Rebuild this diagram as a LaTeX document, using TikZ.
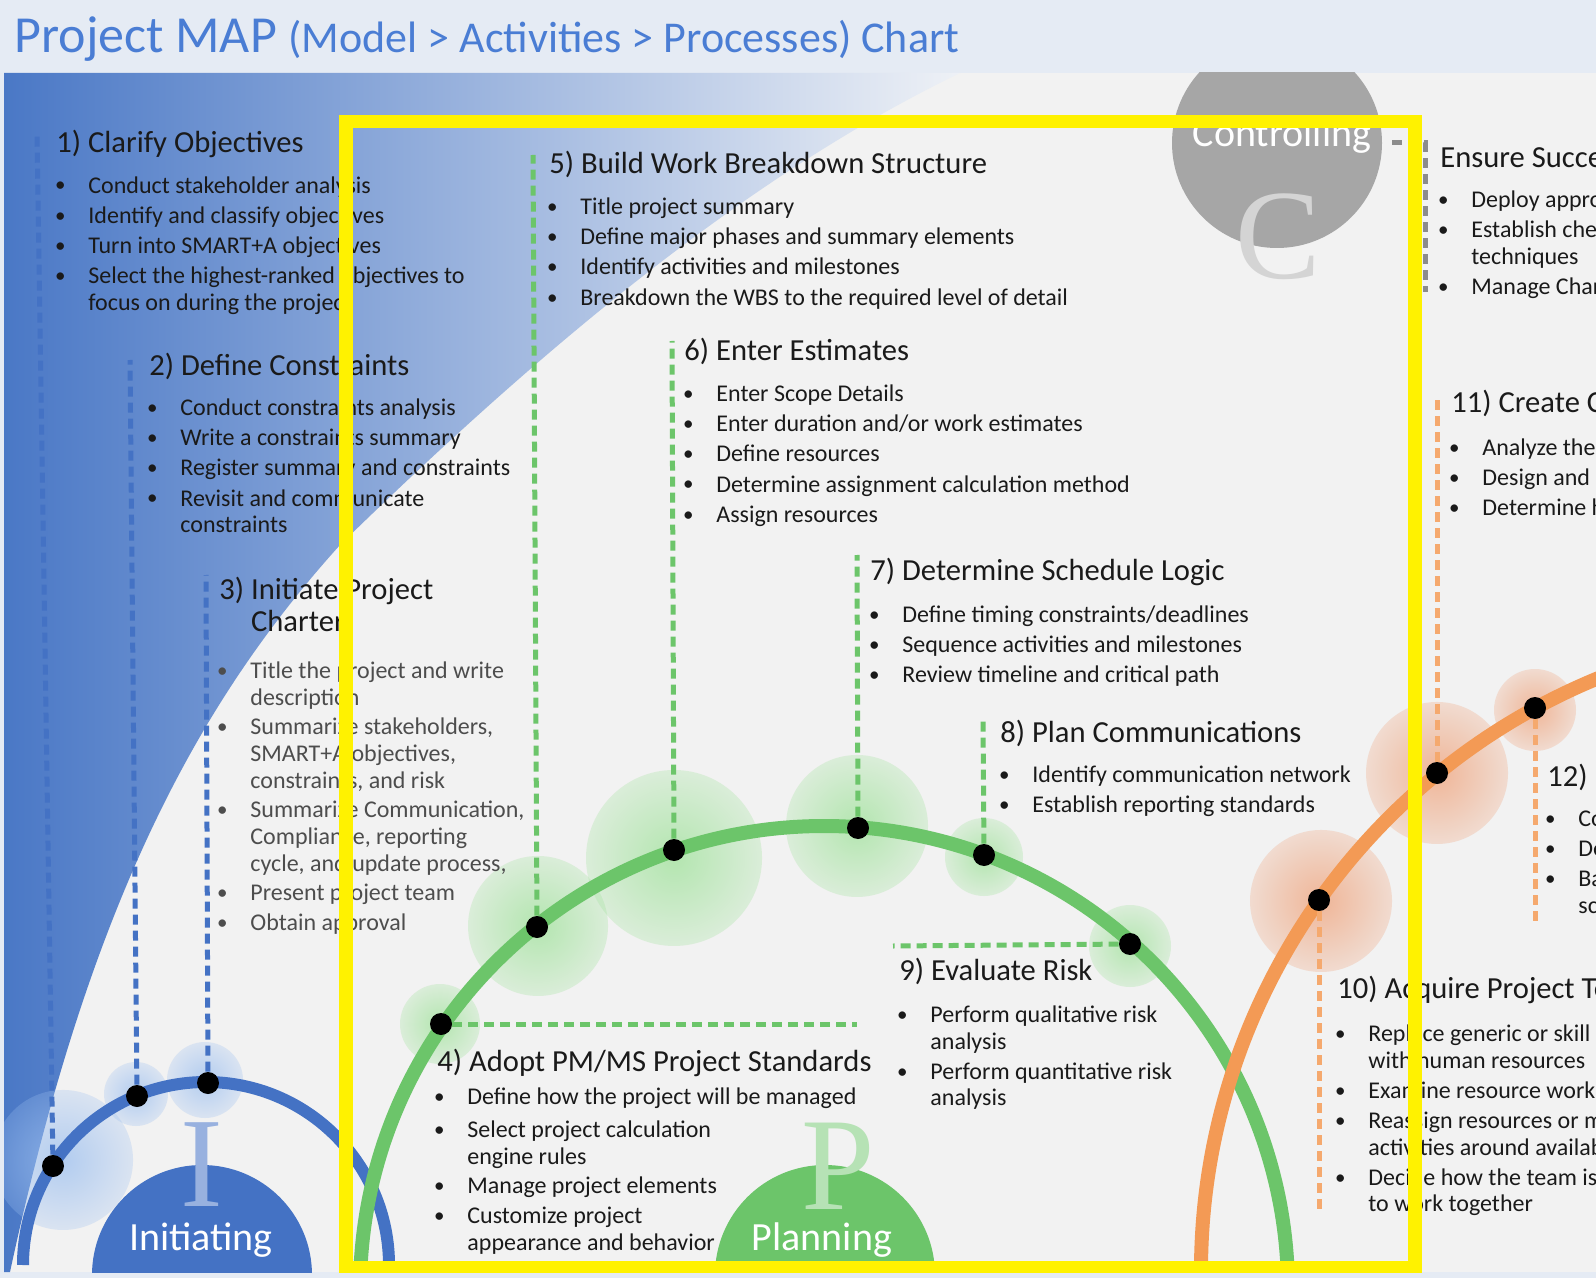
\documentclass[tikz,border=0pt]{standalone}
\usepackage{fontspec}
\setmainfont{Carlito}
\newfontfamily\bigserif{Liberation Serif}
\usetikzlibrary{fadings}
\definecolor{ititle}{HTML}{4A7DD4}
\definecolor{iblue}{HTML}{4472C4}
\definecolor{pgreen}{HTML}{6CC56A}
\definecolor{corange}{HTML}{F39A55}
\definecolor{cgray}{HTML}{A6A6A6}
\definecolor{cline}{HTML}{8C8C8C}
\definecolor{bgmain}{HTML}{F2F2F2}
\definecolor{bgtop}{HTML}{E5EBF4}
\definecolor{bgleft}{HTML}{4A78C6}
\definecolor{bgright}{HTML}{EEF1F6}
\definecolor{txt}{HTML}{1A1A1A}
\definecolor{txtgray}{HTML}{4D4D4D}
\definecolor{bglow}{HTML}{9DC0F0}
\definecolor{gglow}{HTML}{9FE29A}
\definecolor{oglow}{HTML}{EFA27A}
\tikzfading[name=glowfade, inner color=transparent!25, outer color=transparent!72]
\newcommand{\bu}{\makebox[14pt][l]{\makebox[0pt]{\fontsize{10.5}{10}\selectfont\raisebox{0.6pt}{\textbullet}}}}
\newcommand{\ind}{\hspace*{14pt}}

\begin{document}
\begin{tikzpicture}[x=0.5pt, y=-0.5pt,
    hd/.style={anchor=west, inner sep=0pt, text=txt, font=\fontsize{15.3}{16}\selectfont},
    lst/.style={anchor=north west, inner sep=0pt, align=left, text=txt, font=\fontsize{12}{13.3}\selectfont},
    dot/.style={circle, fill=black, inner sep=0pt, minimum size=11pt},
    glow/.style={path fading=glowfade},
    conn/.style={line width=2.5pt, dash pattern=on 5pt off 3pt},
    phase/.style={anchor=base, inner sep=0pt, text=white, font=\fontsize{20}{24}\selectfont},
    bigletter/.style={inner sep=0pt, font=\bigserif\fontsize{64}{64}\selectfont},
  ]
  \useasboundingbox (0,0) rectangle (1596,1278);
  \fill[bgtop] (0,0) rectangle (1596,1278);
  \node[anchor=base west, inner sep=0pt, text=ititle] (title) at (14,53)
    {\fontsize{26}{30}\selectfont Project MAP \fontsize{22}{26}\selectfont(Model > Activities > Processes) Chart};

  \begin{scope}
    \clip (4,73) rectangle (1596,1272);
    \fill[bgmain] (4,73) rectangle (1596,1272);
    \shade[left color=bgleft, right color=bgright] (4,73) -- (960,73)
      .. controls (760,170) and (560,330) .. (340,545)
      .. controls (200,700) and (90,900) .. (10,1272) -- (4,1272) -- cycle;

    % glows
    \fill[bglow, glow] (63,1160) circle (70);
    \fill[bglow, glow] (136,1094) circle (32);
    \fill[bglow, glow] (205,1080) circle (38);
    \fill[gglow, glow] (440,1024) circle (40);
    \fill[gglow, glow] (538,926) circle (70);
    \fill[gglow, glow] (674,858) circle (88);
    \fill[gglow, glow] (857,826) circle (71);
    \fill[gglow, glow] (984,857) circle (39);
    \fill[gglow, glow] (1130,946) circle (41);
    \fill[oglow, glow] (1321,901) circle (71);
    \fill[oglow, glow] (1437,773) circle (71);
    \fill[oglow, glow] (1535,710) circle (41);

    % phase domes
    \fill[iblue] (202,1275) circle (110);
    \fill[pgreen] (825,1275) circle (110);
    \node[circle, fill=cgray, minimum size=105pt, inner sep=0pt] (ctl) at (1277,143) {};
    \node[bigletter, text=iblue!55] (bigI) at (202,1165) {I};
    \node[bigletter, text=pgreen!50!white, font=\bigserif\fontsize{66}{66}\selectfont] (bigP) at (838,1166) {P};
    \node[bigletter, text=black!17] (bigC) at (1278,237) {C};

    % arcs
    \draw[iblue, line width=6pt] (23,1265) arc[start angle=180, end angle=360, radius=183];
    \draw[pgreen, line width=7pt] (360,1290) arc[start angle=180, end angle=360, radius=464];
    \draw[corange, line width=7pt] (1201,1271) arc[start angle=180, end angle=252, radius=641];

    % milestones
    \node[dot] (d1) at (53,1166) {};
    \node[dot] (d2) at (137,1096) {};
    \node[dot] (d3) at (208,1083) {};
    \node[dot] (d4) at (441,1024) {};
    \node[dot] (d5) at (537,927) {};
    \node[dot] (d6) at (674,850) {};
    \node[dot] (d7) at (858,828) {};
    \node[dot] (d8) at (984,855) {};
    \node[dot] (d9) at (1130,944) {};
    \node[dot] (d10) at (1319,900) {};
    \node[dot] (d11) at (1437,773) {};
    \node[dot] (d12) at (1535,708) {};

    \coordinate (t1) at (37,133);
    \coordinate (t2) at (130,360);
    \coordinate (t3) at (206,575);
    \coordinate (t4) at (857,1024);
    \coordinate (t5) at (533,155);
    \coordinate (t6) at (672,341);
    \coordinate (t7) at (857,555);
    \coordinate (t8) at (983,718);
    \coordinate (t9) at (893,946);
    \coordinate (t10) at (1319,1211);
    \coordinate (t11) at (1437,397);
    \coordinate (t12) at (1535,921);
    \coordinate (cbend) at (1425,143);
    \coordinate (cend) at (1425,292);

    \foreach \i in {1,2,3} \draw[conn, iblue] (d\i) -- (t\i);
    \foreach \i in {4,...,9} \draw[conn, pgreen] (d\i) -- (t\i);
    \foreach \i in {10,11,12} \draw[conn, corange!85!white] (d\i) -- (t\i);
    \draw[conn, cline, shorten <=5pt] (ctl) -- (cbend) -- (cend);

    % phase names
    \node[phase] (init) at (201,1250) {Initiating};
    \node[phase] (plan) at (822,1250) {Planning};
    \node[phase] (ctrl) at (1282,147) {Controlling};

    % activity blocks
    \node[hd] (h1) at (56,144) {1) Clarify Objectives};
    \node[lst] (l1) at (60,176) {\bu Conduct stakeholder analysis\\[1.8pt]\bu Identify and classify objectives\\[1.8pt]\bu Turn into SMART+A objectives\\[1.8pt]\bu Select the highest-ranked objectives to\\\ind focus on during the project};

    \node[hd] (h2) at (149,366) {2) Define Constraints};
    \node[lst] (l2) at (152,398.5) {\bu Conduct constraints analysis\\[1.8pt]\bu Write a constraints summary\\[1.8pt]\bu Register summary and constraints\\[1.8pt]\bu Revisit and communicate\\\ind constraints};

    \node[hd, align=left] (h3) at (219,606) {3) Initiate Project\\\phantom{3) }Charter};
    \node[lst, text=txtgray] (l3) at (222,661.5) {\bu Title the project and write\\\ind description\\[1.6pt]\bu Summarize stakeholders,\\\ind SMART+A objectives,\\\ind constraints, and risk\\[1.6pt]\bu Summarize Communication,\\\ind Compliance, reporting\\\ind cycle, and update process,\\[1.6pt]\bu Present project team\\[1.6pt]\bu Obtain approval};

    \node[hd] (h4) at (437,1063) {4) Adopt PM/MS Project Standards};
    \node[lst] (l4) at (439,1087.5) {\bu Define how the project will be managed\\[3.2pt]\bu Select project calculation\\\ind engine rules\\[1.6pt]\bu Manage project elements\\[1.6pt]\bu Customize project\\\ind appearance and behavior};

    \node[hd] (h5) at (549,164) {5) Build Work Breakdown Structure};
    \node[lst] (l5) at (552,197.5) {\bu Title project summary\\[1.8pt]\bu Define major phases and summary elements\\[1.8pt]\bu Identify activities and milestones\\[2.2pt]\bu Breakdown the WBS to the required level of detail};

    \node[hd] (h6) at (684,351) {6) Enter Estimates};
    \node[lst] (l6) at (688,384.5) {\bu Enter Scope Details\\[1.8pt]\bu Enter duration and/or work estimates\\[1.8pt]\bu Define resources\\[1.8pt]\bu Determine assignment calculation method\\[1.8pt]\bu Assign resources};

    \node[hd] (h7) at (870,572) {7) Determine Schedule Logic};
    \node[lst] (l7) at (874,605.5) {\bu Define timing constraints/deadlines\\[1.8pt]\bu Sequence activities and milestones\\[1.8pt]\bu Review timeline and critical path};

    \node[hd] (h8) at (1000,733) {8) Plan Communications};
    \node[lst] (l8) at (1004,765.5) {\bu Identify communication network\\[1.8pt]\bu Establish reporting standards};

    \node[hd] (h9) at (899,971) {9) Evaluate Risk};
    \node[lst] (l9) at (902,1005.5) {\bu Perform qualitative risk\\\ind analysis\\[1.8pt]\bu Perform quantitative risk\\\ind analysis};

    \node[hd] (h10) at (1337,990) {10) Acquire Project Team};
    \node[lst] (l10) at (1340,1024.5) {\bu Replace generic or skill\\\ind with human resources\\[1.8pt]\bu Examine resource work\\[1.8pt]\bu Reassign resources or m\\\ind activities around availab\\[1.8pt]\bu Decide how the team is\\\ind to work together};

    \node[hd] (h11) at (1451,403) {11) Create C};
    \node[lst] (l11) at (1454,438.5) {\bu Analyze the\\[1.8pt]\bu Design and c\\[1.8pt]\bu Determine h};

    \node[hd] (h12) at (1547,777) {12)};
    \node[lst] (l12) at (1550,810.5) {\bu Co\\[1.8pt]\bu De\\[1.8pt]\bu Ba\\\ind sc};

    \node[hd] (h13) at (1440,158) {Ensure Success};
    \node[lst] (l13) at (1443,190.5) {\bu Deploy appro\\[1.8pt]\bu Establish che\\\ind techniques\\[1.8pt]\bu Manage Char};

    % highlight frame
    \draw[yellow, line width=6.8pt] (346,121.5) rectangle (1415,1268);
  \end{scope}
\end{tikzpicture}
\end{document}
